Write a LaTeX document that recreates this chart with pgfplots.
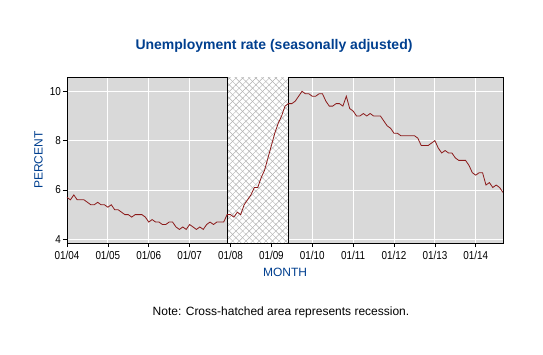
\documentclass[border=0pt]{standalone}
\usepackage{pgfplots}
\usepackage{pgfplotstable}
\pgfplotsset{compat=1.18}
\usetikzlibrary{patterns.meta}
\usepackage{fontspec}
\setmainfont{Liberation Sans}
\newfontfamily\tickfont[FakeStretch=0.86]{Liberation Sans}
\definecolor{titleblue}{HTML}{003F8F}
\definecolor{linered}{HTML}{8B1A1A}
\definecolor{bggray}{HTML}{D9D9D9}
\definecolor{hatchgray}{HTML}{B0B0B0}

\pgfplotstableread[row sep=\\]{
m r\\
0 5.7\\ 1 5.6\\ 2 5.8\\ 3 5.6\\ 4 5.6\\ 5 5.6\\ 6 5.5\\ 7 5.4\\ 8 5.4\\ 9 5.5\\ 10 5.4\\ 11 5.4\\
12 5.3\\ 13 5.4\\ 14 5.2\\ 15 5.2\\ 16 5.1\\ 17 5.0\\ 18 5.0\\ 19 4.9\\ 20 5.0\\ 21 5.0\\ 22 5.0\\ 23 4.9\\
24 4.7\\ 25 4.8\\ 26 4.7\\ 27 4.7\\ 28 4.6\\ 29 4.6\\ 30 4.7\\ 31 4.7\\ 32 4.5\\ 33 4.4\\ 34 4.5\\ 35 4.4\\
36 4.6\\ 37 4.5\\ 38 4.4\\ 39 4.5\\ 40 4.4\\ 41 4.6\\ 42 4.7\\ 43 4.6\\ 44 4.7\\ 45 4.7\\ 46 4.7\\ 47 5.0\\
48 5.0\\ 49 4.9\\ 50 5.1\\ 51 5.0\\ 52 5.4\\ 53 5.6\\ 54 5.8\\ 55 6.1\\ 56 6.1\\ 57 6.5\\ 58 6.8\\ 59 7.3\\
60 7.8\\ 61 8.3\\ 62 8.7\\ 63 9.0\\ 64 9.4\\ 65 9.5\\ 66 9.5\\ 67 9.6\\ 68 9.8\\ 69 10.0\\ 70 9.9\\ 71 9.9\\
72 9.8\\ 73 9.8\\ 74 9.9\\ 75 9.9\\ 76 9.6\\ 77 9.4\\ 78 9.4\\ 79 9.5\\ 80 9.5\\ 81 9.4\\ 82 9.8\\ 83 9.3\\
84 9.2\\ 85 9.0\\ 86 9.0\\ 87 9.1\\ 88 9.0\\ 89 9.1\\ 90 9.0\\ 91 9.0\\ 92 9.0\\ 93 8.8\\ 94 8.6\\ 95 8.5\\
96 8.3\\ 97 8.3\\ 98 8.2\\ 99 8.2\\ 100 8.2\\ 101 8.2\\ 102 8.2\\ 103 8.1\\ 104 7.8\\ 105 7.8\\ 106 7.8\\ 107 7.9\\
108 8.0\\ 109 7.7\\ 110 7.5\\ 111 7.6\\ 112 7.5\\ 113 7.5\\ 114 7.3\\ 115 7.2\\ 116 7.2\\ 117 7.2\\ 118 7.0\\ 119 6.7\\
120 6.6\\ 121 6.7\\ 122 6.7\\ 123 6.2\\ 124 6.3\\ 125 6.1\\ 126 6.2\\ 127 6.1\\ 128 5.9\\
}\unrate

\begin{document}
\begin{tikzpicture}[x=1pt,y=1pt]
\path[use as bounding box] (-67,-111) rectangle (476,243);
\begin{axis}[at={(0,0)}, anchor=south west, scale only axis,
  width=436pt, height=166pt,
  xmin=0, xmax=128, ymin=3.85, ymax=10.58,
  xtick={0,12,...,120},
  xticklabels={01/04,01/05,01/06,01/07,01/08,01/09,01/10,01/11,01/12,01/13,01/14},
  ytick={4,6,8,10},
  grid=major, grid style={white, line width=0.9pt},
  axis background/.style={fill=bggray},
  axis line style={black, line width=0.8pt},
  tick align=outside, xtick pos=bottom, ytick pos=left,
  major tick length=4pt,
  tick style={black, line width=0.6pt},
  ticklabel style={font=\tickfont\fontsize{11.5}{13}\selectfont},
  xticklabel style={yshift=-1pt},
  yticklabel style={xshift=1.5pt},
  /pgf/number format/assume math mode=true,
]
\addplot[fill=white, draw=none] coordinates {(47,3.87) (47,10.56) (65,10.56) (65,3.87)} -- cycle;
\addplot[draw=none, pattern={Lines[angle=45,distance=4.7pt,line width=0.45pt]}, pattern color=hatchgray] coordinates {(47,3.87) (47,10.56) (65,10.56) (65,3.87)} -- cycle;
\addplot[draw=none, pattern={Lines[angle=-45,distance=4.7pt,line width=0.45pt]}, pattern color=hatchgray] coordinates {(47,3.87) (47,10.56) (65,10.56) (65,3.87)} -- cycle;
\addplot[black, line width=0.8pt] coordinates {(47,3.85) (47,10.58)};
\addplot[black, line width=0.8pt] coordinates {(65,3.85) (65,10.58)};
\addplot[linered, line width=0.8pt] table[x=m,y=r]{\unrate};
\end{axis}
\node[anchor=base, font=\bfseries\fontsize{14}{16}\selectfont, text=titleblue] at (207,193.7) {Unemployment rate (seasonally adjusted)};
\node[anchor=base, rotate=90, font=\fontsize{12}{14}\selectfont, text=titleblue] at (-24.3,83) {PERCENT};
\node[anchor=base, font=\fontsize{12}{14}\selectfont, text=titleblue] at (218,-33.7) {MONTH};
\node[anchor=base, font=\fontsize{12}{14}\selectfont] at (214,-72) {Note: Cross-hatched area represents recession.};
\end{tikzpicture}
\end{document}
